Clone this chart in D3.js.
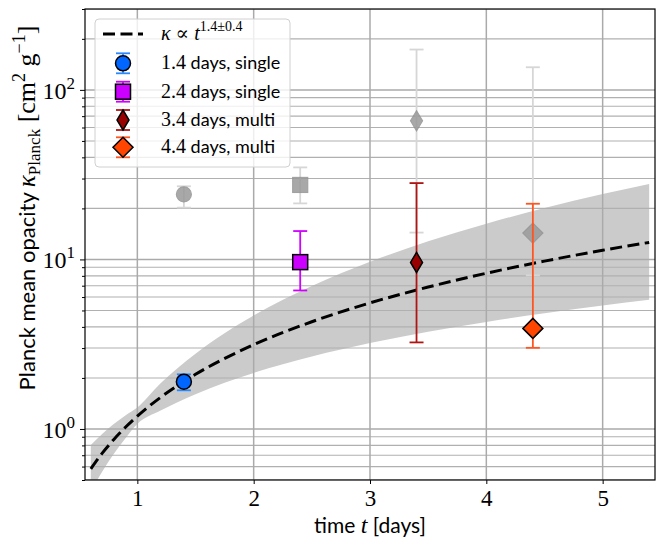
<!DOCTYPE html>
<html><head><meta charset="utf-8">
<script src="https://cdn.jsdelivr.net/npm/d3@7"></script>
<style>body{margin:0;background:#fff}</style>
</head><body><svg id="c" width="665" height="540"></svg>
<script>
// ---- data ----
const times = [1.4, 2.4, 3.4, 4.4];
const dayLabels = ["1.4", "2.4", "3.4", "4.4"];
const kindLabels = [" days, single", " days, single", " days, multi", " days, multi"];
const kappa   = [1.90, 9.64, 9.6, 3.92];
const kappaLo = [1.69, 6.56, 3.24, 3.01];
const kappaHi = [2.10, 14.7, 28.2, 21.3];
const greyKappa = [24.2, 27.5, 65.7, 14.3];
const greyLo    = [20.2, 21.4, 14.4, 8.05];
const greyHi    = [27.0, 34.9, 173, 136];
const fitT = [0.6, 0.7, 0.8, 0.9, 1.0, 1.2, 1.5, 2.0, 2.5, 3.0, 3.5, 4.0, 4.5, 5.0, 5.4];
const fitK = [0.582, 0.722, 0.871, 1.027, 1.19, 1.536, 2.10, 3.14, 4.29, 5.54, 6.87, 8.29, 9.77, 11.33, 12.6];
const bandT  = [0.6, 0.7, 0.8, 0.9, 1.0, 1.2, 1.5, 2.0, 2.5, 3.0, 3.5, 4.0, 4.5, 5.0, 5.4];
const bandHi = [0.804, 0.938, 1.072, 1.206, 1.34, 1.86, 2.78, 4.67, 6.97, 9.68, 12.78, 16.25, 20.09, 24.3, 27.9];
const bandLo = [0.427, 0.563, 0.716, 0.885, 1.07, 1.284, 1.605, 2.14, 2.675, 3.21, 3.745, 4.28, 4.815, 5.35, 5.78];
const xTicks = [1, 2, 3, 4, 5];
const yMajor = [1, 10, 100];
const yMinor = [0.5,0.6,0.7,0.8,0.9,2,3,4,5,6,7,8,9,20,30,40,50,60,70,80,90,200,300];

const fills = ["#0066ff", "#cc00ff", "#990000", "#ff4500"];
const errCols = ["#2a88ff", "#d000ff", "#b01515", "#ff5522"];
const shapes = ["circle", "square", "thin", "diamond"];

// ---- layout ----
const L = 85, R = 655, T = 9, B = 480;
const serif = "'Liberation Serif', 'DejaVu Serif', serif";
const sans = "Lato, 'Open Sans', sans-serif";
const svg = d3.select("#c");
const x = d3.scaleLinear([0.55, 5.45], [L, R]);
const y = d3.scaleLog([0.5, 300], [B, T]);

svg.append("defs").append("clipPath").attr("id", "clip")
  .append("rect").attr("x", L).attr("y", T).attr("width", R - L).attr("height", B - T);

const plot = svg.append("g").attr("clip-path", "url(#clip)");

// band
const area = d3.area().x((d, i) => x(bandT[i])).y0((d, i) => y(bandLo[i])).y1((d, i) => y(bandHi[i]))
  .curve(d3.curveMonotoneX);
plot.append("path").datum(bandT).attr("d", area).attr("fill", "#cbcbcb");

// grid
const grid = plot.append("g");
grid.selectAll(".hmin").data(yMinor).join("line")
  .attr("x1", L).attr("x2", R).attr("y1", d => y(d)).attr("y2", d => y(d))
  .attr("stroke", "#b0b0b0").attr("stroke-width", 1.1);
grid.selectAll(".hmaj").data(yMajor).join("line")
  .attr("x1", L).attr("x2", R).attr("y1", d => y(d)).attr("y2", d => y(d))
  .attr("stroke", "#aaaaaa").attr("stroke-width", 1.5);
grid.selectAll(".vmaj").data(xTicks).join("line")
  .attr("y1", T).attr("y2", B).attr("x1", d => x(d)).attr("x2", d => x(d))
  .attr("stroke", "#aaaaaa").attr("stroke-width", 1.5);

// fit line
const line = d3.line().x((d, i) => x(fitT[i])).y((d, i) => y(fitK[i])).curve(d3.curveMonotoneX);
plot.append("path").datum(fitT).attr("d", line).attr("fill", "none")
  .attr("stroke", "#000").attr("stroke-width", 3).attr("stroke-dasharray", "12,5.5");

function marker(g, shape, fill, stroke, sw) {
  let m;
  if (shape === "circle") m = g.append("circle").attr("r", 7.5);
  else if (shape === "square") m = g.append("rect").attr("x", -7.5).attr("y", -7.5).attr("width", 15).attr("height", 15);
  else if (shape === "thin") m = g.append("path").attr("d", "M0,-10L6,0L0,10L-6,0Z");
  else m = g.append("path").attr("d", "M0,-10L10,0L0,10L-10,0Z");
  m.attr("fill", fill).attr("stroke", stroke).attr("stroke-width", sw);
  return m;
}
function errbar(g, x0, y1, y2, col, w) {
  g.append("line").attr("x1", x0).attr("x2", x0).attr("y1", y1).attr("y2", y2).attr("stroke", col).attr("stroke-width", w);
  [y1, y2].forEach(yy => g.append("line").attr("x1", x0 - 7).attr("x2", x0 + 7).attr("y1", yy).attr("y2", yy)
    .attr("stroke", col).attr("stroke-width", w));
}

// grey points
times.forEach((t, i) => {
  const g = plot.append("g");
  errbar(g, x(t), y(greyHi[i]), y(greyLo[i]), "#d6d6d6", 1.8);
  const m = g.append("g").attr("transform", `translate(${x(t)},${y(greyKappa[i])})`);
  marker(m, shapes[i], "#9a9a9a", "#929292", 1.2).attr("opacity", 0.85);
});
// coloured points
times.forEach((t, i) => {
  const g = plot.append("g");
  errbar(g, x(t), y(kappaHi[i]), y(kappaLo[i]), errCols[i], 1.8);
  const m = g.append("g").attr("transform", `translate(${x(t)},${y(kappa[i])})`);
  marker(m, shapes[i], fills[i], "#000", 1.5);
});

// axes
const ax = svg.append("g");
const xa = ax.append("g").attr("transform", `translate(0,${B})`)
  .call(d3.axisBottom(x).tickValues(xTicks).tickSize(4).tickPadding(6).tickFormat(d3.format("d")));
xa.selectAll("text").attr("font-family", serif).attr("font-size", 23).attr("fill", "#000");
const ya = ax.append("g").attr("transform", `translate(${L},0)`)
  .call(d3.axisLeft(y).tickValues(yMajor).tickSize(5).tickPadding(5).tickFormat(() => ""));
ya.selectAll(".tick text").each(function (d) {
  const t = d3.select(this).attr("font-family", serif).attr("font-size", 24).attr("fill", "#000").attr("dy", "0.35em");
  t.append("tspan").text("10");
  t.append("tspan").attr("dy", -10).attr("font-size", 17).text(Math.round(Math.log10(d)));
});
const ym = ax.append("g").attr("transform", `translate(${L},0)`)
  .call(d3.axisLeft(y).tickValues(yMinor).tickSize(3).tickFormat(() => ""));
[xa, ya, ym].forEach(a => { a.select(".domain").remove(); a.selectAll("line").attr("stroke", "#000").attr("stroke-width", 1); });
svg.append("rect").attr("x", L).attr("y", T).attr("width", R - L).attr("height", B - T)
  .attr("fill", "none").attr("stroke", "#000").attr("stroke-width", 1.2);

// axis labels
const xl = svg.append("text").attr("x", 370).attr("y", 533).attr("text-anchor", "middle").attr("font-size", 21).attr("font-family", sans);
xl.append("tspan").text("time ");
xl.append("tspan").attr("font-family", serif).attr("font-style", "italic").attr("font-size", 24).text("t");
xl.append("tspan").text(" [days]");

const yl = svg.append("text").attr("transform", "translate(35,208) rotate(-90)").attr("text-anchor", "middle")
  .attr("font-size", 22).attr("font-family", sans);
yl.append("tspan").text("Planck mean opacity ");
yl.append("tspan").attr("font-family", serif).attr("font-style", "italic").attr("font-size", 25).text("κ");
yl.append("tspan").attr("font-family", serif).attr("font-size", 17).attr("dy", 5).text("Planck");
yl.append("tspan").attr("font-family", serif).attr("font-size", 26).attr("dy", -5).text(" [cm");
yl.append("tspan").attr("font-family", serif).attr("font-size", 18).attr("dy", -10).text("2");
yl.append("tspan").attr("font-family", serif).attr("font-size", 26).attr("dy", 10).text(" g");
yl.append("tspan").attr("font-family", serif).attr("font-size", 18).attr("dy", -10).text("−1");
yl.append("tspan").attr("font-family", serif).attr("font-size", 26).attr("dy", 10).text("]");

// legend
const lg = svg.append("g");
lg.append("rect").attr("x", 95).attr("y", 19).attr("width", 195).attr("height", 148).attr("rx", 4)
  .attr("fill", "#fff").attr("fill-opacity", 0.8).attr("stroke", "#d0d0d0").attr("stroke-width", 1);
lg.append("line").attr("x1", 103).attr("x2", 143).attr("y1", 34).attr("y2", 34)
  .attr("stroke", "#000").attr("stroke-width", 3).attr("stroke-dasharray", "12,5.5");
const lt = lg.append("text").attr("x", 161).attr("y", 40).attr("font-family", serif).attr("font-size", 20);
lt.append("tspan").attr("font-style", "italic").text("κ");
lt.append("tspan").text(" ∝ ");
lt.append("tspan").attr("font-style", "italic").text("t");
lt.append("tspan").attr("font-size", 14).attr("dy", -9).text("1.4±0.4");
const rowY = [63.3, 91.7, 120, 147.3];
times.forEach((t, i) => {
  const g = lg.append("g");
  errbar(g, 123, rowY[i] - 10, rowY[i] + 10, errCols[i], 1.8);
  const m = g.append("g").attr("transform", `translate(123,${rowY[i]})`);
  marker(m, shapes[i], fills[i], "#000", 1.5);
  const tx = g.append("text").attr("x", 161).attr("y", rowY[i] + 6).attr("font-size", 18).attr("font-family", sans);
  tx.append("tspan").attr("font-family", serif).attr("font-size", 20).text(dayLabels[i]);
  tx.append("tspan").text(kindLabels[i]);
});
</script></body></html>
